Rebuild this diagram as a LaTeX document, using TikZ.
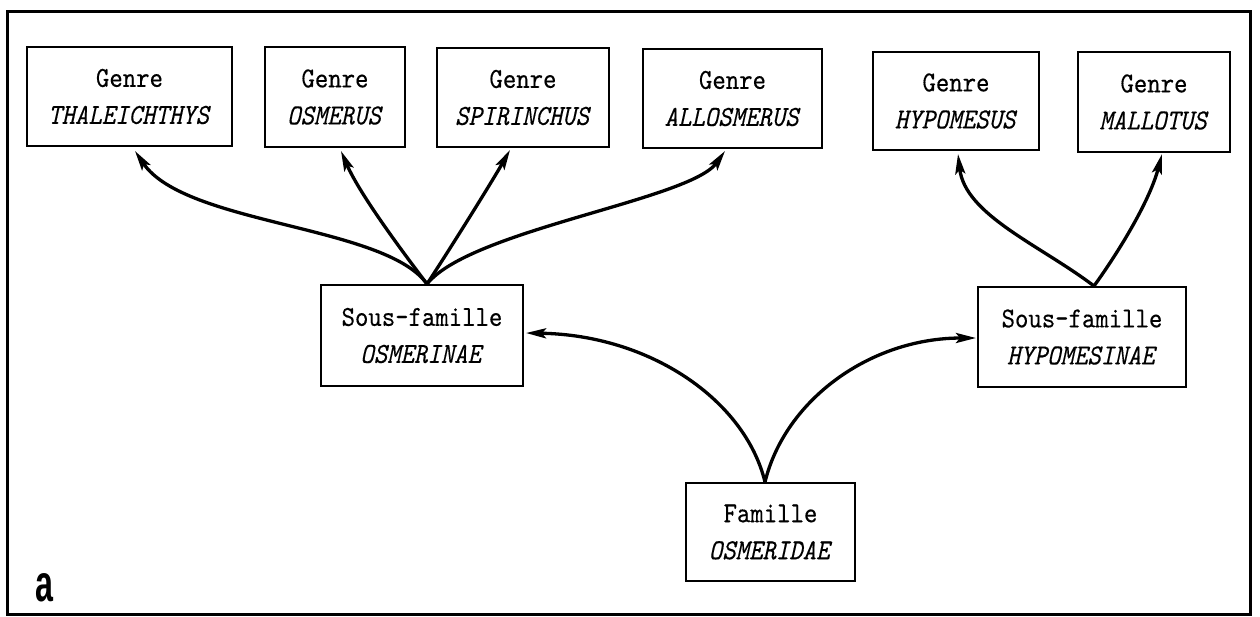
\documentclass[tikz,border=0pt]{standalone}
\usepackage{fontspec}
\usetikzlibrary{arrows.meta}
\newfontfamily\boxfont{lmmono10-regular.otf}[ItalicFont=lmmono10-italic.otf,FakeStretch=0.88,FakeBold=0.3]
\newfontfamily\labelfont{Liberation Sans}[FakeStretch=0.62]
\begin{document}
\begin{tikzpicture}[x=1pt,y=-1pt,
  box/.style={draw=black, line width=2pt, rectangle, inner sep=0pt, align=center,
    font=\boxfont\fontsize{29}{37}\selectfont},
  link/.style={line width=3.3pt, -{Stealth[length=20pt,width=10pt,inset=4pt]}},
  frame/.style={line width=3pt}
]
\useasboundingbox (0,0) rectangle (1260,616);
\draw[frame] (7,11) rectangle (1250,614);

\node[box, minimum width=205pt, minimum height=99pt] (thal) at (129.5,96.5) {Genre\\\textit{THALEICHTHYS}};
\node[box, minimum width=140pt, minimum height=100pt] (osm) at (335,97) {Genre\\\textit{OSMERUS}};
\node[box, minimum width=172pt, minimum height=99pt] (spir) at (523,97.5) {Genre\\\textit{SPIRINCHUS}};
\node[box, minimum width=179pt, minimum height=99pt] (allo) at (732.5,98.5) {Genre\\\textit{ALLOSMERUS}};
\node[box, minimum width=166pt, minimum height=98pt] (hyp) at (956,101) {Genre\\\textit{HYPOMESUS}};
\node[box, minimum width=152pt, minimum height=100pt] (mall) at (1154,102) {Genre\\\textit{MALLOTUS}};

\node[box, minimum width=202pt, minimum height=101pt] (osmerinae) at (422,335.5) {Sous-famille\\\textit{OSMERINAE}};
\node[box, minimum width=208pt, minimum height=100pt] (hypomesinae) at (1082,337) {Sous-famille\\\textit{HYPOMESINAE}};
\node[box, minimum width=169pt, minimum height=98pt] (famille) at (770.5,532) {Famille\\\textit{OSMERIDAE}};

\node[anchor=base west, inner sep=0pt, font=\labelfont\bfseries\fontsize{52}{52}\selectfont] (lbl) at (35,601) {a};

\draw[link] ([xshift=5pt]osmerinae.north) .. controls (385,225) and (185,225) .. ([xshift=5.5pt,yshift=-4pt]thal.south);
\draw[link] ([xshift=5pt]osmerinae.north) .. controls (405,255) and (360,195) .. ([xshift=6pt,yshift=-3pt]osm.south);
\draw[link] ([xshift=5pt]osmerinae.north) .. controls (448,252) and (490,185) .. ([xshift=-13pt,yshift=-2pt]spir.south);
\draw[link] ([xshift=5pt]osmerinae.north) .. controls (470,230) and (690,200) .. ([xshift=-7.5pt,yshift=-2pt]allo.south);

\draw[link] ([xshift=12pt]hypomesinae.north) .. controls (1040,245) and (965,215) .. ([xshift=2pt,yshift=-3pt]hyp.south);
\draw[link] ([xshift=12pt]hypomesinae.north) .. controls (1120,250) and (1150,200) .. ([xshift=8pt,yshift=-1pt]mall.south);

\draw[link] ([xshift=-5.5pt]famille.north) .. controls (745,400) and (650,335) .. ([xshift=2pt,yshift=2.5pt]osmerinae.east);
\draw[link] ([xshift=-5.5pt]famille.north) .. controls (785,400) and (870,338) .. ([xshift=-1pt,yshift=-1pt]hypomesinae.west);
\end{tikzpicture}
\end{document}
